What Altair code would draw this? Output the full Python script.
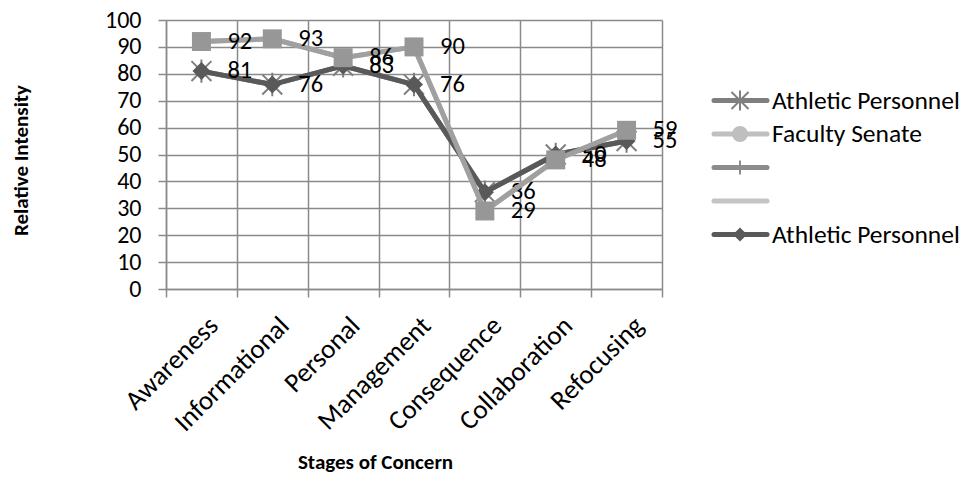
import altair as alt
import pandas as pd

stages = ["Awareness", "Informational", "Personal", "Management",
          "Consequence", "Collaboration", "Refocusing"]
athletic_star = [81, 76, 83, 76, 36, 50, 55]
faculty_senate = [92, 93, 86, 90, 29, 48, 59]
athletic_diamond = [81, 76, 83, 76, 36, 50, 55]
square_series = [92, 93, 86, 90, 29, 48, 59]
legend_names = ["Athletic Personnel", "Faculty Senate", "", "", "Athletic Personnel"]
y_ticks = list(range(0, 101, 10))

FONT = "Carlito, Lato, sans-serif"
GRID = "#8a8a8a"

STAR = "M-0.85,-0.85L0.85,0.85M-0.85,0.85L0.85,-0.85M0,-1L0,1"


def frame(vals):
    return pd.DataFrame({"stage": stages, "value": vals})


x_enc = alt.X(
    "stage:N", sort=stages,
    scale=alt.Scale(type="band", domain=stages, paddingInner=0, paddingOuter=0),
    axis=alt.Axis(
        title="Stages of Concern", tickBand="extent", grid=True,
        labelAngle=-45, labelAlign="right", labelBaseline="top",
        labelPadding=15, labelOffset=3, tickSize=8, labelFontSize=27,
        titleX=209, titleY=173, titleAlign="center", titleBaseline="middle",
    ),
)
y_enc = alt.Y(
    "value:Q",
    scale=alt.Scale(domain=[0, 100], nice=False, zero=True),
    axis=alt.Axis(
        title="Relative Intensity", values=y_ticks, tickSize=8, labelPadding=17,
        labelFontSize=24,
        titleX=-145, titleY=140, titleAlign="center", titleBaseline="middle",
        titleAngle=-90,
    ),
)


def series_layers(vals, color, shape, size, filled=True, label=False, mcolor=None, sw=1.5):
    base = alt.Chart(frame(vals)).encode(x=x_enc, y=y_enc)
    line = base.mark_line(color=color, strokeWidth=5)
    pts = base.mark_point(shape=shape, size=size, filled=filled,
                          color=mcolor or color, opacity=1, strokeWidth=sw)
    out = [line, pts]
    if label:
        out.append(base.mark_text(align="left", baseline="middle", dx=26,
                                  fontSize=24.5, font=FONT, color="black")
                   .encode(text="value:Q"))
    return out


layers = []
layers += series_layers(athletic_star, "#7f7f7f", STAR, 550, filled=False, sw=2)
layers += series_layers(faculty_senate, "#bfbfbf", "circle", 254)
layers += series_layers(athletic_diamond, "#595959", "diamond", 324, label=True)
layers += series_layers(square_series, "#a0a0a0", "square", 360, label=True, mcolor="#979797")

# legend
leg_colors = ["#7f7f7f", "#bfbfbf", "#8c8c8c", "#c4c4c4", "#595959"]
leg_shapes = [STAR, "circle", "M0,-1L0,1", None, "diamond"]
leg_filled = [False, True, False, True, True]
leg_sizes = [400, 254, 200, 0, 200]
leg_y = [100.5, 134, 167.5, 201, 234.5]
for i, name in enumerate(legend_names):
    yv = leg_y[i] - 20
    ld = pd.DataFrame({"name": [name]})
    layers.append(alt.Chart(ld).mark_rule(color=leg_colors[i], strokeWidth=5, strokeCap="round")
                  .encode(x=alt.value(548), x2=alt.value(601), y=alt.value(yv)))
    if leg_shapes[i]:
        layers.append(alt.Chart(ld).mark_point(shape=leg_shapes[i], size=leg_sizes[i],
                                               filled=leg_filled[i], color=leg_colors[i],
                                               opacity=1, strokeWidth=2)
                      .encode(x=alt.value(574), y=alt.value(yv)))
    layers.append(alt.Chart(ld).mark_text(align="left", baseline="middle", fontSize=25.5,
                                          font=FONT, color="black")
                  .encode(x=alt.value(606), y=alt.value(yv), text="name:N"))

chart = alt.layer(*layers).properties(
    width=496, height=269,
    autosize=alt.AutoSizeParams(type="none"),
    padding={"left": 158, "top": 12, "right": 304, "bottom": 186},
).configure_view(stroke=None).configure_axis(
    labelFont=FONT, labelFontSize=25, labelColor="black",
    titleFont=FONT, titleFontSize=21, titleFontWeight="bold", titleColor="black",
    gridColor=GRID, gridWidth=1.5, domainColor=GRID, domainWidth=1.5,
    tickColor=GRID, tickWidth=1.5,
)

chart.save("out.html", embed_options={"renderer": "svg", "actions": False})
